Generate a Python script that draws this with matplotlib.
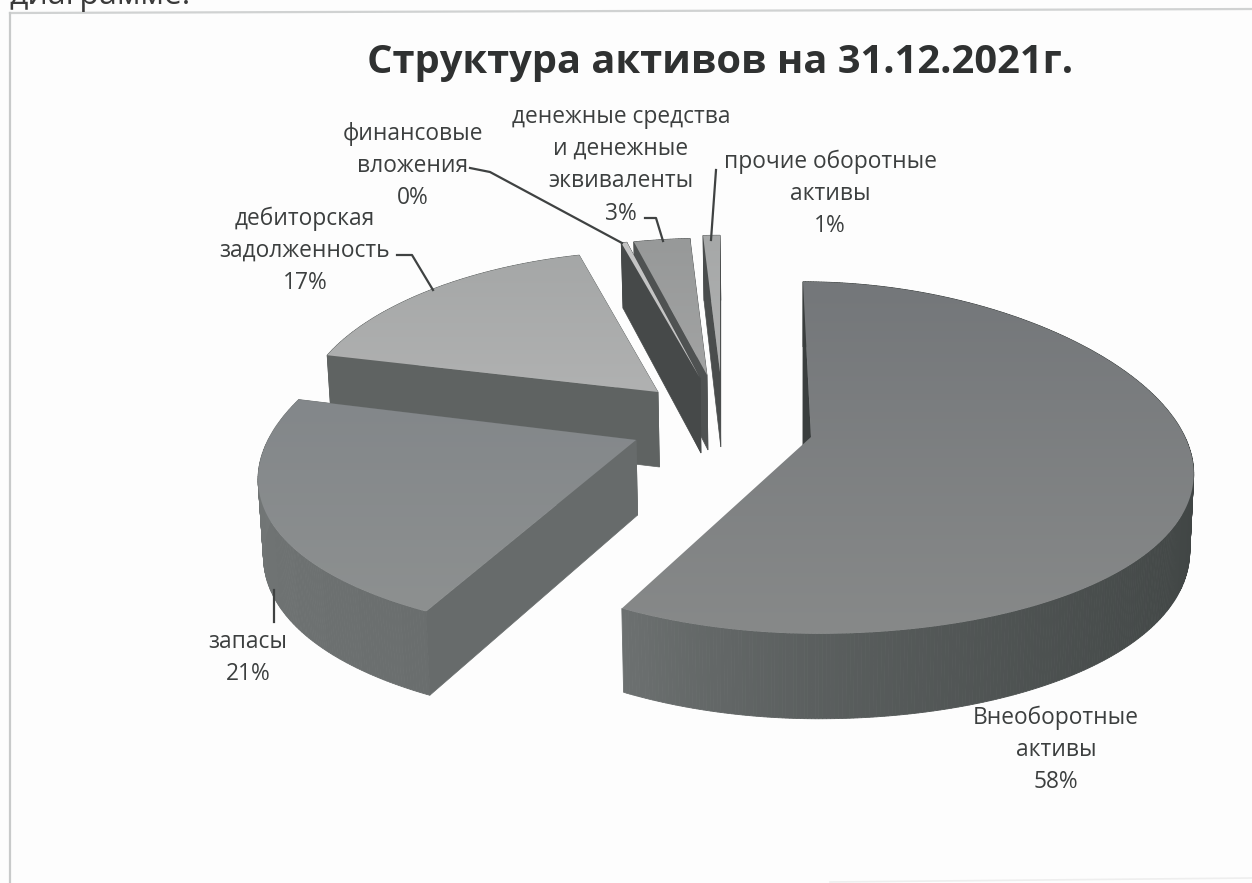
import numpy as np
import matplotlib
matplotlib.use("Agg")
import matplotlib.pyplot as plt
from matplotlib.patches import Polygon

plt.rcParams['font.family'] = ['Open Sans', 'DejaVu Sans']

# ---- data ----
title = "Структура активов на 31.12.2021г."
categories = ["Внеоборотные\nактивы", "запасы", "дебиторская\nзадолженность",
              "финансовые\nвложения", "денежные средства\nи денежные\nэквиваленты",
              "прочие оборотные\nактивы"]
values = [57.8, 21.0, 17.0, 0.3, 3.0, 0.9]

# ---- style: exploded 3D projection of each slice ----
tips = [(811, 437), (636, 440), (658, 392), (700, 378), (707, 375), (720, 372)]
radii = [374, 368, 353, 353, 353, 353]
ry = [176, 176, 160, 158, 155, 155]
k_right = [0.20, 0.24, 0.15, 0.15, 0.15, 0.15]
k_left = [0.13, 0.24, 0.15, 0.15, 0.15, 0.15]
shear = [8, 0, 0, 0, 0, 0]
k_y = 0.118
top_cols = [("#74777a", "#878989"), ("#83878a", "#8d9090"), ("#a5a7a7", "#b0b1b1"),
            ("#c4c4c4", "#c4c4c4"), ("#979999", "#a2a3a3"), ("#a6a8a8", "#b0b1b1")]
side_cols = [("#3a3f3e", "#6c7070"), ("#6a6e6e", "#747878"), ("#5f6362", "#5f6362"),
             ("#4a4c4c", "#4a4c4c"), ("#4f5252", "#4f5252"), ("#4a4d4d", "#4a4d4d")]
side_power = [3, 1, 1, 1, 1, 1]
cut_cols = ["#3a3e3e", "#676b6b", "#5f6362", "#464949", "#4f5252", "#4a4d4d"]
show_end_cut = [False, True, True, True, True, True]
cut_lean = [-8, 0, 0, 0, 0, 0]
draw_order = [2, 4, 3, 5, 1, 0]
label_pos = [(1056, [716, 748, 780]), (248, [640, 672]), (305, [217, 249, 281]),
             (413, [132, 164, 196]), (621, [115, 147, 179, 212]), (830, [160, 192, 224])]
leaders = [None, [(274, 590), (274, 622)], [(397, 255), (412, 255), (433, 290)],
           [(470, 168), (490, 172), (622, 243)], [(645, 218), (656, 218), (663, 241)],
           [(716, 170), (711, 240)]]
TXT = "#3c3f3f"

fig = plt.figure(figsize=(12.52, 8.83), dpi=100, facecolor="#fdfdfd")
ax = fig.add_axes([0, 0, 1, 1])
ax.axis("off")


def proj(i, deg):
    """Project a pie angle (clockwise from top, degrees) on the unit rim -> top and bottom points."""
    t = np.radians(deg)
    u, v = np.sin(t), -np.cos(t)
    kx = np.where(u > 0, k_right[i], k_left[i])
    x = tips[i][0] + radii[i] * u * (1 + kx * v) + shear[i] * v
    y = tips[i][1] + ry[i] * v * (1 + k_y * v)
    return x, y, v


def drop(x, y, v):
    d = 75 + 10 * v
    return 800 + (x - 800) * 0.99, y + d


bounds = np.concatenate([[0], np.cumsum(values)]) / np.sum(values) * 360
z = 2
for i in draw_order:
    a0, a1 = bounds[i], bounds[i + 1]
    ang = np.linspace(a0, a1, max(6, int((a1 - a0) * 2)))
    x, y, v = proj(i, ang)
    bx, by = drop(x, y, v)
    tx, ty = tips[i]
    btx, bty = drop(tx, ty, 0)

    # rim, as many small quads whose shade follows the angle
    c0 = np.array(matplotlib.colors.to_rgb(side_cols[i][0]))
    c1 = np.array(matplotlib.colors.to_rgb(side_cols[i][1]))
    for j in range(len(ang) - 1):
        f = (j / max(1, len(ang) - 2)) ** side_power[i]
        col = c0 + (c1 - c0) * f
        ax.add_patch(Polygon([(x[j], y[j]), (x[j + 1], y[j + 1]), (bx[j + 1], by[j + 1]), (bx[j], by[j])],
                             closed=True, fc=col, ec=col, lw=0.6, zorder=z))
    z += 1
    # the two cut faces (the one at the end of the main slice faces away)
    ax.add_patch(Polygon([(tx, ty), (x[0], y[0]), (bx[0], by[0]), (btx + cut_lean[i], bty)], closed=True,
                         fc=cut_cols[i], ec=cut_cols[i], lw=0.5, zorder=z))
    z += 1
    if show_end_cut[i]:
        ax.add_patch(Polygon([(tx, ty), (x[-1], y[-1]), (bx[-1], by[-1]), (btx, bty)], closed=True,
                             fc=cut_cols[i], ec=cut_cols[i], lw=0.5, zorder=z))
    z += 1
    # top surface, with a soft gradient clipped to the slice
    pts = [(tx, ty)] + list(zip(x, y))
    poly = Polygon(pts, closed=True, fc="none", ec="none", zorder=z)
    ax.add_patch(poly)
    g = np.linspace(0, 1, 64).reshape(-1, 1)
    ca = np.array(matplotlib.colors.to_rgb(top_cols[i][0]))
    cb = np.array(matplotlib.colors.to_rgb(top_cols[i][1]))
    rgb = ca + (cb - ca) * g[..., None]
    px, py = zip(*pts)
    im = ax.imshow(rgb, extent=[min(px), max(px), max(py), min(py)], aspect="auto",
                   interpolation="bilinear", zorder=z + 0.5)
    im.set_clip_path(poly)
    z += 1

ax.set_xlim(0, 1252)
ax.set_ylim(883, 0)

# scanned frame: top and left edges, faint bottom edge, and the clipped line of text above it
ax.plot([10, 1252], [13, 9], color="#d0d2d2", lw=1.6, zorder=1)
ax.plot([10, 10], [13, 883], color="#c8caca", lw=1.6, zorder=1)
ax.plot([830, 1252], [882, 878], color="#eeeeee", lw=1.2, zorder=1)
ax.text(9, 4, "диаграмме:", fontsize=23, color="#3a3a3a", va="baseline", ha="left", clip_on=True)

ax.text(720, 62, title, fontsize=28.7, fontweight="bold", color="#2f3131", ha="center", va="center")

# labels
for i, cat in enumerate(categories):
    lines = cat.split("\n") + [f"{values[i]:.0f}%"]
    cx, ys = label_pos[i]
    for line, yy in zip(lines, ys):
        ax.text(cx, yy + 2, line, fontsize=16.4, color=TXT, ha="center", va="center", zorder=100)
    if leaders[i]:
        lx, ly = zip(*leaders[i])
        ax.plot(lx, ly, color="#3f4242", lw=1.6, zorder=99)

fig.savefig("out.png", dpi=100, facecolor=fig.get_facecolor())
